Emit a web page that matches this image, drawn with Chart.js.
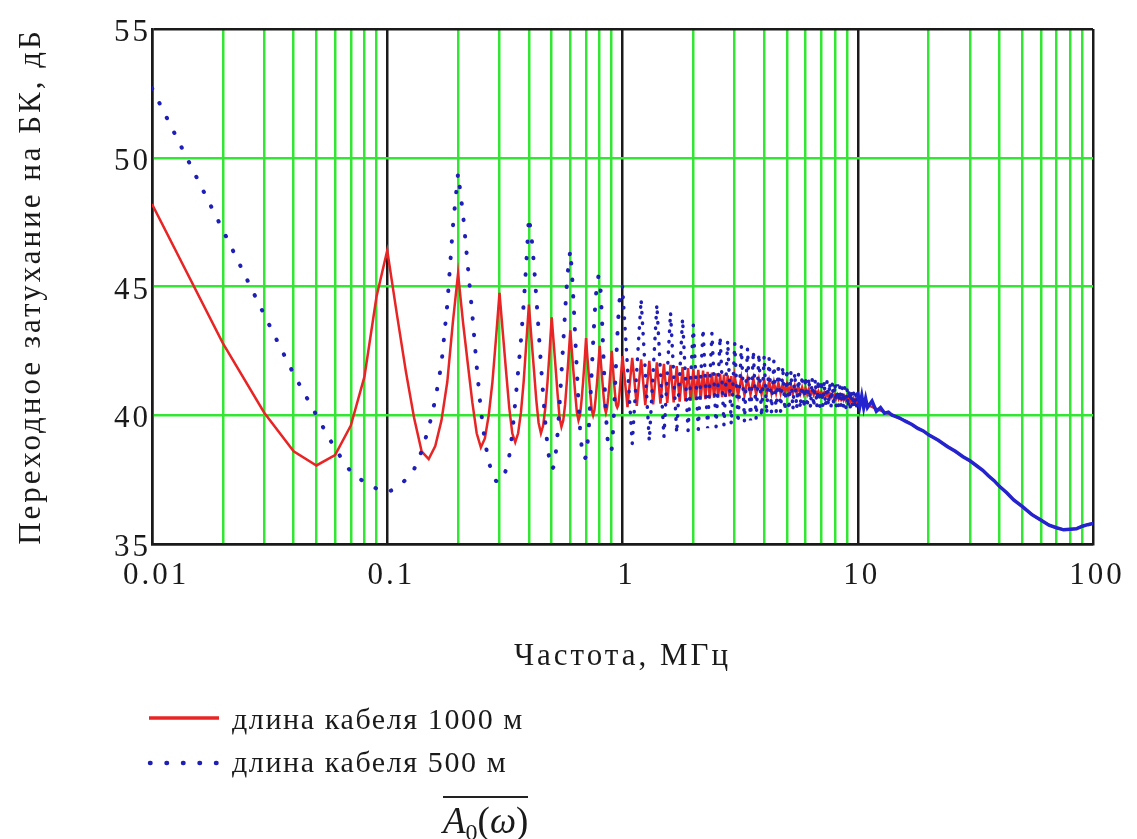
<!DOCTYPE html>
<html>
<head>
<meta charset="utf-8">
<script src="https://cdn.jsdelivr.net/npm/chart.js@4.4.1/dist/chart.umd.min.js"></script>
<style>
html,body{margin:0;padding:0;background:#fff;}
#wrap{position:relative;width:1137px;height:839px;overflow:hidden;background:#fff;}
#c{position:absolute;left:0;top:0;}
.lg{position:absolute;font-family:"Liberation Serif",serif;font-size:30px;letter-spacing:1.6px;color:#1a1a1a;line-height:32px;white-space:nowrap;}
#formula{position:absolute;left:443px;top:796px;border-top:2px solid #222;padding-top:2px;font-family:"Liberation Serif",serif;font-size:37px;line-height:42px;color:#1a1a1a;white-space:nowrap;}
#formula i{font-style:italic;}
#formula sub{font-size:24px;vertical-align:-7px;}
</style>
</head>
<body>
<div id="wrap">
<canvas id="c" width="1137" height="839"></canvas>
<svg style="position:absolute;left:140px;top:700px" width="90" height="80">
  <line x1="9" y1="18" x2="79" y2="18" stroke="rgb(232,36,36)" stroke-width="3.5"/>
  <line x1="10" y1="63" x2="78" y2="63" stroke="#1f1fb8" stroke-width="4.5" stroke-linecap="round" stroke-dasharray="0.5 16"/>
</svg>
<div class="lg" id="lg1" style="left:232px;top:703px;">длина кабеля 1000 м</div>
<div class="lg" id="lg2" style="left:232px;top:746px;">длина кабеля 500 м</div>
<div id="formula"><i>A</i><sub>0</sub>(<i>ω</i>)</div>
</div>
<script>
// ---- data (frequency in MHz, attenuation in dB) ----
const freqLow = [0.01,0.02,0.03,0.04,0.05,0.06,0.07,0.08,0.09,0.10,
  0.11,0.12,0.13,0.14,0.15,0.16,0.17,0.18,0.19,0.20,
  0.21,0.22,0.23,0.24,0.25,0.26,0.27,0.28,0.29,0.30,
  0.31,0.32,0.33,0.34,0.35,0.36,0.37,0.38,0.39,0.40,
  0.41,0.42,0.43,0.44,0.45,0.46,0.47,0.48,0.49,0.50,
  0.51,0.52,0.53,0.54,0.55,0.56,0.57,0.58,0.59,0.60,
  0.61,0.62,0.63,0.64,0.65,0.66,0.67,0.68,0.69,0.70,
  0.71,0.72,0.73,0.74,0.75,0.76,0.77,0.78,0.79,0.80,
  0.81,0.82,0.83,0.84,0.85,0.86,0.87,0.88,0.89,0.90,
  0.91,0.92,0.93,0.94,0.95,0.96,0.97,0.98,0.99,1.00];

const redLow = [48.2,42.8,40.1,38.6,38.05,38.45,39.6,41.5,44.6,46.4,
  43.9,41.7,39.9,38.6,38.3,38.8,39.8,41.3,43.6,45.5,
  43.6,42.0,40.5,39.3,38.75,39.1,40.0,41.3,43.0,44.75,
  43.2,41.7,40.3,39.3,38.95,39.3,40.1,41.3,42.8,44.3,
  43.0,41.8,40.6,39.7,39.3,39.6,40.3,41.3,42.5,43.8,
  42.8,41.8,40.8,39.9,39.55,39.8,40.4,41.3,42.3,43.3,
  42.4,41.6,40.8,40.1,39.8,40.0,40.6,41.3,42.1,43.0,
  42.2,41.5,40.8,40.2,40.0,40.2,40.7,41.3,42.0,42.7,
  42.0,41.4,40.8,40.3,40.1,40.3,40.7,41.2,41.8,42.5,
  41.9,41.3,40.8,40.4,40.3,40.4,40.8,41.3,41.8,42.3];

const blueLow = [52.7,47.2,43.9,41.6,40.0,38.7,37.8,37.4,37.15,37.0,
  37.2,37.5,37.9,38.6,39.5,40.6,42.0,44.3,47.3,49.4,
  47.8,45.8,43.9,41.9,40.2,39.0,38.2,37.7,37.45,37.4,
  37.5,37.9,38.4,39.3,40.5,41.7,42.9,44.3,45.9,47.7,
  47.0,45.9,44.6,43.3,42.0,40.8,39.7,38.8,38.2,37.9,
  38.0,38.5,39.3,40.4,41.6,42.8,44.0,45.1,45.9,46.4,
  45.5,44.3,43.0,41.7,40.5,39.5,38.8,38.4,38.3,38.4,
  38.9,39.6,40.6,41.7,42.8,43.8,44.6,45.1,45.4,45.4,
  44.6,43.5,42.3,41.1,40.1,39.3,38.8,38.6,38.6,38.7,
  39.3,40.1,41.1,42.1,43.0,43.8,44.4,44.8,45.0,45.0];

const redMidF = [1.05,1.1,1.15,1.2,1.25,1.3,1.35,1.4,1.45,1.5,
  1.55,1.6,1.65,1.7,1.75,1.8,1.85,1.9,1.95,2.0,
  2.05,2.1,2.15,2.2,2.25,2.3,2.35,2.4,2.45,2.5,
  2.55,2.6,2.65,2.7,2.75,2.8,2.85,2.9,2.95,3.0,
  3.1,3.2,3.3,3.4,3.5,3.6,3.7,3.8,3.9,4.0,
  4.1,4.2,4.3,4.4,4.5,4.6,4.7,4.8,4.9,5.0,
  5.1,5.2,5.3,5.4,5.5,5.6,5.7,5.8,5.9,6.0,
  6.1,6.2,6.3,6.4,6.5,6.6,6.7,6.8,6.9,7.0,
  7.1,7.2,7.3,7.4,7.5,7.6,7.7,7.8,7.9,8.0,
  8.1,8.2,8.3,8.4,8.5,8.6,8.7,8.8,8.9,9.0,
  9.1,9.2,9.3,9.4,9.5,9.6,9.7,9.8,9.9,10.0,
  10.5,11,12,13,14];

const redMid = [40.32,42.23,40.36,42.17,40.39,42.11,40.42,42.05,40.45,42.0,
  40.48,41.96,40.5,41.91,40.53,41.87,40.55,41.83,40.57,41.8,
  40.59,41.76,40.61,41.73,40.63,41.69,40.65,41.66,40.67,41.63,
  40.68,41.6,40.7,41.58,40.71,41.55,40.73,41.52,40.74,41.5,
  40.76,41.47,40.78,41.44,40.8,41.41,40.81,41.38,40.83,41.35,
  40.84,41.32,40.85,41.29,40.86,41.26,40.86,41.23,40.86,41.2,
  40.86,41.17,40.85,41.14,40.85,41.11,40.84,41.08,40.83,41.05,
  40.82,41.02,40.81,40.99,40.8,40.96,40.78,40.93,40.76,40.9,
  40.75,40.88,40.73,40.86,40.72,40.84,40.7,40.82,40.68,40.8,
  40.66,40.78,40.64,40.76,40.62,40.74,40.6,40.72,40.58,40.7,
  40.56,40.68,40.55,40.66,40.53,40.64,40.52,40.62,40.5,40.6,
  40.5,40.4,40.25,40.12,40.02];

const blueMidF = [1.1,1.2,1.3,1.4,1.5,1.6,1.7,1.8,1.9,2.0,
  2.1,2.2,2.3,2.4,2.5,2.6,2.7,2.8,2.9,3.0,
  3.1,3.2,3.3,3.4,3.5,3.6,3.7,3.8,3.9,4.0,
  4.1,4.2,4.3,4.4,4.5,4.6,4.7,4.8,4.9,5.0,
  5.1,5.2,5.3,5.4,5.5,5.6,5.7,5.8,5.9,6.0,
  6.1,6.2,6.3,6.4,6.5,6.6,6.7,6.8,6.9,7.0,
  7.1,7.2,7.3,7.4,7.5,7.6,7.7,7.8,7.9,8.0,
  8.1,8.2,8.3,8.4,8.5,8.6,8.7,8.8,8.9,9.0,
  9.1,9.2,9.3,9.4,9.5,9.6,9.7,9.8,9.9,10.0,
  10.2,10.4,10.6,10.8,11,11.5,12,12.5,13,13.5,14];

const blueMid = [38.9,44.5,39.0,44.3,39.15,44.0,39.3,43.75,39.4,43.5,
  39.45,43.35,39.5,43.2,39.55,43.05,39.6,42.9,39.65,42.8,
  39.7,42.7,39.75,42.6,39.8,42.5,39.85,42.4,39.95,42.3,
  40.05,42.2,40.1,42.1,40.12,42.0,40.15,41.9,40.18,41.8,
  40.2,41.7,40.22,41.65,40.25,41.6,40.27,41.55,40.28,41.5,
  40.3,41.45,40.31,41.42,40.32,41.4,40.33,41.37,40.34,41.35,
  40.35,41.33,40.35,41.3,40.35,41.28,40.35,41.27,40.35,41.25,
  40.34,41.2,40.33,41.15,40.32,41.12,40.31,41.08,40.3,41.05,
  40.3,41.0,40.3,40.95,40.3,40.92,40.3,40.88,40.3,40.85,
  40.35,40.75,40.3,40.65,40.3,40.55,40.15,40.3,40.08,40.12,40.0];

const highF = [15,16,17,18,19,20,22,24,26,28,30,32,34,36,38,40,43,46,50,55,60,65,70,75,80,85,90,95,100];
const redHigh = [39.88,39.78,39.63,39.5,39.38,39.25,39.02,38.8,38.58,38.4,38.22,38.05,37.85,37.65,37.45,37.25,36.98,36.72,36.45,36.15,35.92,35.74,35.62,35.56,35.56,35.6,35.68,35.76,35.8];
const blueHigh = [39.9,39.76,39.64,39.49,39.39,39.24,39.03,38.79,38.6,38.39,38.23,38.04,37.86,37.64,37.46,37.24,36.99,36.71,36.46,36.14,35.93,35.73,35.63,35.55,35.57,35.59,35.69,35.75,35.8];

const xDecades = [0.01, 0.1, 1, 10, 100];
const xTickLabels = ['0.01', '0.1', '1', '10', '100'];
const yTicks = [35, 40, 45, 50, 55];

const seriesNames = ['длина кабеля 1000 м', 'длина кабеля 500 м'];
const xTitle = 'Частота, МГц';
const yTitle = 'Переходное затухание на БК, дБ';

// ---- build ----
function pts(fs, vs) { return fs.map((f, i) => ({ x: f, y: vs[i] })); }
const redData = [].concat(pts(freqLow, redLow), pts(redMidF, redMid), pts(highF, redHigh));
const blueData = [].concat(pts(freqLow, blueLow), pts(blueMidF, blueMid), pts(highF, blueHigh));

const xGrid = [];
for (let d = 0; d < xDecades.length - 1; d++) {
  for (let m = 1; m <= 9; m++) xGrid.push(m === 1 ? xDecades[d] : +(m * xDecades[d]).toPrecision(6));
}
xGrid.push(xDecades[xDecades.length - 1]);
function decadeIndex(v) {
  for (let i = 0; i < xDecades.length; i++) if (Math.abs(v - xDecades[i]) < xDecades[i] * 1e-6) return i;
  return -1;
}

const GREEN = '#33e633';
const DARK = '#1a1a1a';

const spacingPlugin = {
  id: 'spacing',
  beforeLayout(chart) { chart.ctx.letterSpacing = '3px'; },
  beforeDraw(chart) {
    chart.ctx.letterSpacing = '3px';
    const ctx = chart.ctx;
    ctx.save();
    ctx.fillStyle = '#fff';
    ctx.fillRect(0, 0, chart.width, chart.height);
    ctx.restore();
  }
};

Chart.defaults.font.family = '"Liberation Serif", "Times New Roman", serif';
Chart.defaults.font.size = 31;
Chart.defaults.color = DARK;

new Chart(document.getElementById('c'), {
  type: 'line',
  data: {
    datasets: [
      {
        label: seriesNames[0],
        data: redData,
        borderColor: 'rgb(232,36,36)',
        borderWidth: 2.5,
        pointRadius: 0,
        tension: 0,
        fill: false,
        order: 2
      },
      {
        label: seriesNames[1],
        data: blueData,
        borderColor: '#1f1fb8',
        borderWidth: 4,
        borderDash: [0.5, 16],
        borderCapStyle: 'round',
        pointRadius: 0,
        tension: 0,
        fill: false,
        order: 1,
        segment: {
          borderDash: ctx => ctx.p0.parsed.x >= 10 ? [] : (ctx.p0.parsed.x >= 1 ? [0.5, 10] : undefined),
          borderWidth: ctx => ctx.p0.parsed.x >= 1 ? 3.5 : undefined,
          borderColor: ctx => ctx.p0.parsed.x >= 10 ? '#2323d0' : undefined
        }
      }
    ]
  },
  options: {
    responsive: false,
    animation: false,
    events: [],
    layout: { padding: { left: 0, top: 29, right: 44, bottom: 160 } },
    plugins: { legend: { display: false }, tooltip: { enabled: false } },
    scales: {
      x: {
        type: 'logarithmic',
        min: 0.01,
        max: 100,
        afterBuildTicks(scale) { scale.ticks = xGrid.map(v => ({ value: v })); },
        afterFit(scale) { scale.height = 135; },
        ticks: {
          autoSkip: false,
          maxRotation: 0,
          padding: 13,
          labelOffset: 4,
          color: DARK,
          callback(value) {
            const i = decadeIndex(value);
            return i >= 0 ? xTickLabels[i] : '';
          }
        },
        grid: {
          drawTicks: false,
          lineWidth: 2.5,
          color: ctx => (ctx.tick && decadeIndex(ctx.tick.value) >= 0) ? DARK : GREEN
        },
        border: { display: true, color: DARK, width: 2.5 },
        title: { display: true, text: xTitle, color: DARK, padding: { top: 0, bottom: 4 } }
      },
      y: {
        type: 'linear',
        min: 35,
        max: 55,
        afterBuildTicks(scale) { scale.ticks = yTicks.map(v => ({ value: v })); },
        afterFit(scale) { scale.width = 152; },
        ticks: { padding: 1, labelOffset: 4, color: DARK },
        grid: {
          drawTicks: false,
          lineWidth: 2.5,
          color: ctx => (ctx.tick && (ctx.tick.value === 35 || ctx.tick.value === 55)) ? DARK : GREEN
        },
        border: { display: true, color: DARK, width: 2.5 },
        title: { display: true, text: yTitle, color: DARK, padding: { top: 13, bottom: 0 } }
      }
    }
  },
  plugins: [spacingPlugin]
});
</script>
</body>
</html>
